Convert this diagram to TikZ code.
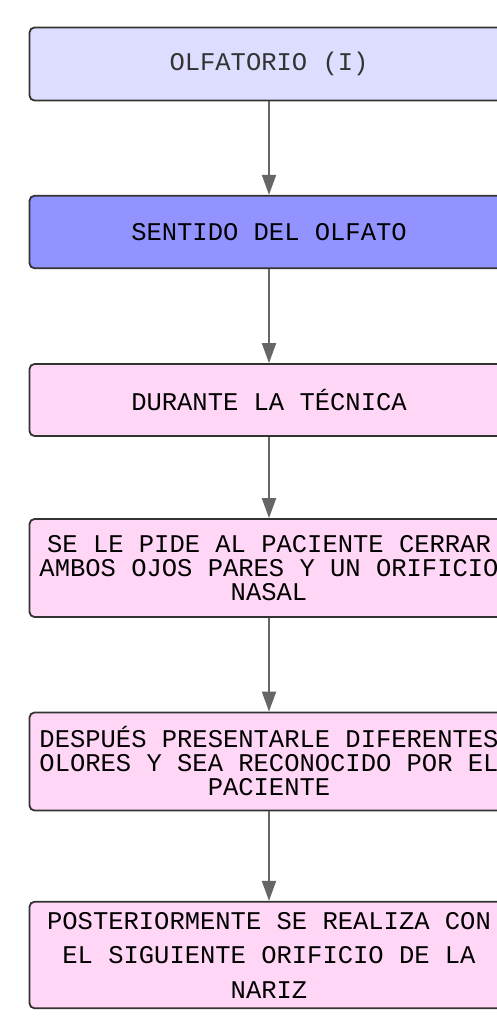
\documentclass[tikz,border=0pt]{standalone}
\usepackage{fontspec}
\usetikzlibrary{arrows.meta}
\newfontfamily\monofont{Liberation Mono}
\definecolor{lila}{HTML}{DDDDFF}
\definecolor{azul}{HTML}{9393FF}
\definecolor{rosa}{HTML}{FFD6F5}
\definecolor{borde}{HTML}{333333}
\definecolor{gris}{HTML}{666666}
\tikzset{
  caja/.style={rectangle, rounded corners=5pt, draw=borde, line width=1.8pt,
    minimum width=479pt, inner sep=0pt, align=center,
    font=\monofont\fontsize{25.5}{24}\selectfont},
  flecha/.style={draw=gris, line width=2pt, -{Triangle[length=20pt,width=14pt]}, gris}
}
\begin{document}
\begin{tikzpicture}[x=1pt,y=-1pt]
\useasboundingbox (0,0) rectangle (497,1029) ;
\draw (269,64) node[caja, fill=lila, text=borde, minimum height=73pt](olf) {OLFATORIO (I)} ;
\draw (269,232) node[caja, fill=azul, minimum height=72.5pt](sent) {SENTIDO DEL OLFATO} ;
\draw (269,400) node[caja, fill=rosa, minimum height=72pt](tecn) {DURANTE LA TÉCNICA} ;
\draw (269,568) node[caja, fill=rosa, minimum height=98pt](pide) {SE LE PIDE AL PACIENTE CERRAR\\AMBOS OJOS PARES Y UN ORIFICIO\\NASAL} ;
\draw (269,761.5) node[caja, fill=rosa, minimum height=98pt](olor) {DESPUÉS PRESENTARLE DIFERENTES\\OLORES Y SEA RECONOCIDO POR EL\\PACIENTE} ;
\draw (269,955) node[caja, fill=rosa, minimum height=106.5pt,
  font=\monofont\fontsize{25.5}{34.5}\selectfont](nariz) {POSTERIORMENTE SE REALIZA CON\\EL SIGUIENTE ORIFICIO DE LA\\NARIZ} ;
\draw[flecha] (olf) -- (sent) ;
\draw[flecha] (sent) -- (tecn) ;
\draw[flecha] (tecn) -- (pide) ;
\draw[flecha] (pide) -- (olor) ;
\draw[flecha] (olor) -- (nariz) ;
\end{tikzpicture}
\end{document}
